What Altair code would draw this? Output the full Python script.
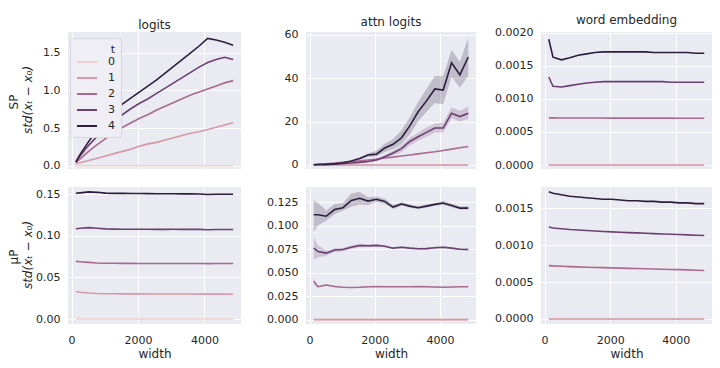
import altair as alt
import pandas as pd

# ---------------- data ----------------
WIDTHS = [128, 256, 512, 768, 1024, 1280, 1536, 1792, 2048, 2304,
          2560, 2816, 3072, 3328, 3584, 3840, 4096, 4352, 4608, 4864]
T_STEPS = [0, 1, 2, 3, 4]
T_COLORS = ["#EDD1CB", "#D49AA9", "#A96A8E", "#6C3F71", "#2D1E3E"]
ZERO = [0.0, 0.0, 0.0, 0.0, 0.0, 0.0, 0.0, 0.0, 0.0, 0.0,
        0.0, 0.0, 0.0, 0.0, 0.0, 0.0, 0.0, 0.0, 0.0, 0.0]

# SP / logits
sp_logits_t1 = [0.03, 0.04, 0.07, 0.10, 0.13, 0.16, 0.19, 0.22, 0.26, 0.29,
                0.31, 0.34, 0.37, 0.40, 0.43, 0.45, 0.48, 0.51, 0.54, 0.57]
sp_logits_t2 = [0.04, 0.09, 0.19, 0.28, 0.36, 0.44, 0.51, 0.57, 0.63, 0.68,
                0.74, 0.79, 0.84, 0.89, 0.94, 0.98, 1.02, 1.06, 1.10, 1.13]
sp_logits_t3 = [0.05, 0.13, 0.27, 0.39, 0.50, 0.59, 0.68, 0.76, 0.83, 0.89,
                0.96, 1.03, 1.10, 1.17, 1.24, 1.31, 1.37, 1.41, 1.44, 1.41]
sp_logits_t4 = [0.05, 0.15, 0.32, 0.48, 0.61, 0.72, 0.82, 0.90, 0.98, 1.06,
                1.14, 1.23, 1.32, 1.41, 1.50, 1.59, 1.69, 1.67, 1.64, 1.60]

# SP / attn logits
sp_attn_t2 = [0.2, 0.3, 0.6, 0.9, 1.2, 1.5, 1.9, 2.3, 2.7, 3.2,
              3.6, 4.1, 4.6, 5.1, 5.6, 6.1, 6.7, 7.3, 7.9, 8.5]
sp_attn_t3 = [0.1, 0.2, 0.3, 0.4, 0.6, 0.9, 1.2, 1.6, 2.3, 3.8,
              5.5, 7.5, 10.8, 13.0, 15.0, 17.0, 17.0, 23.8, 22.3, 23.8]
sp_attn_t3_lo = [0.0, 0.1, 0.2, 0.3, 0.4, 0.7, 0.9, 1.2, 1.7, 3.0,
                 4.4, 6.0, 9.0, 11.2, 13.0, 15.0, 15.0, 21.5, 20.0, 21.2]
sp_attn_t3_hi = [0.2, 0.3, 0.4, 0.5, 0.8, 1.1, 1.5, 2.0, 2.9, 4.6,
                 6.6, 9.0, 12.6, 14.8, 17.2, 19.0, 19.5, 26.5, 25.0, 27.0]
sp_attn_t4 = [0.1, 0.2, 0.3, 0.5, 1.0, 1.8, 3.0, 4.6, 5.0, 7.8,
              9.5, 12.5, 18.0, 24.5, 29.5, 35.0, 34.5, 47.0, 41.5, 49.7]
sp_attn_t4_lo = [0.0, 0.1, 0.2, 0.4, 0.8, 1.4, 2.4, 3.8, 3.8, 6.0,
                 7.2, 9.5, 14.0, 20.0, 24.5, 28.5, 28.0, 40.5, 35.5, 41.0]
sp_attn_t4_hi = [0.2, 0.3, 0.4, 0.6, 1.2, 2.2, 3.6, 5.4, 6.5, 9.8,
                 12.0, 16.0, 22.0, 29.0, 35.0, 41.0, 41.0, 53.0, 47.5, 58.5]

# SP / word embedding
sp_emb_t2 = [0.000712, 0.000712, 0.000711, 0.000711, 0.000710, 0.000710, 0.000710, 0.000710, 0.000709, 0.000709,
             0.000709, 0.000709, 0.000708, 0.000708, 0.000708, 0.000708, 0.000707, 0.000707, 0.000707, 0.000707]
sp_emb_t3 = [0.00133, 0.00119, 0.00118, 0.00120, 0.00122, 0.00124, 0.00125, 0.00126, 0.00126, 0.00126,
             0.00126, 0.00126, 0.00126, 0.00126, 0.00126, 0.00125, 0.00125, 0.00125, 0.00125, 0.00125]
sp_emb_t4 = [0.00190, 0.00163, 0.00159, 0.00162, 0.00166, 0.00168, 0.00170, 0.00171, 0.00171, 0.00171,
             0.00171, 0.00171, 0.00171, 0.00170, 0.00170, 0.00170, 0.00170, 0.00170, 0.00169, 0.00169]

# muP / logits
mup_logits_t1 = [0.0330, 0.0322, 0.0312, 0.0306, 0.0304, 0.0303, 0.0302, 0.0302, 0.0302, 0.0301,
                 0.0301, 0.0300, 0.0300, 0.0300, 0.0300, 0.0299, 0.0299, 0.0299, 0.0299, 0.0298]
mup_logits_t2 = [0.0692, 0.0688, 0.0680, 0.0672, 0.0670, 0.0669, 0.0668, 0.0668, 0.0667, 0.0667,
                 0.0667, 0.0667, 0.0667, 0.0667, 0.0666, 0.0666, 0.0665, 0.0666, 0.0666, 0.0666]
mup_logits_t3 = [0.1085, 0.1090, 0.1098, 0.1090, 0.1083, 0.1080, 0.1079, 0.1078, 0.1078, 0.1078,
                 0.1077, 0.1077, 0.1078, 0.1077, 0.1077, 0.1077, 0.1073, 0.1076, 0.1076, 0.1076]
mup_logits_t4 = [0.1510, 0.1515, 0.1527, 0.1522, 0.1512, 0.1510, 0.1509, 0.1508, 0.1507, 0.1506,
                 0.1505, 0.1505, 0.1504, 0.1503, 0.1503, 0.1502, 0.1496, 0.1499, 0.1499, 0.1499]

# muP / attn logits
mup_attn_t2 = [0.0408, 0.0350, 0.0368, 0.0352, 0.0345, 0.0342, 0.0345, 0.0350, 0.0352, 0.0350,
               0.0350, 0.0350, 0.0350, 0.0352, 0.0350, 0.0348, 0.0345, 0.0348, 0.0350, 0.0350]
mup_attn_t2_lo = [0.0370, 0.0340, 0.0360, 0.0345, 0.0340, 0.0337, 0.0340, 0.0345, 0.0347, 0.0346,
                  0.0346, 0.0346, 0.0346, 0.0348, 0.0346, 0.0344, 0.0341, 0.0344, 0.0346, 0.0346]
mup_attn_t2_hi = [0.0445, 0.0360, 0.0376, 0.0359, 0.0350, 0.0347, 0.0350, 0.0355, 0.0357, 0.0354,
                  0.0354, 0.0354, 0.0354, 0.0356, 0.0354, 0.0352, 0.0349, 0.0352, 0.0354, 0.0354]
mup_attn_t3 = [0.0760, 0.0725, 0.0707, 0.0740, 0.0745, 0.0770, 0.0788, 0.0785, 0.0790, 0.0780,
               0.0760, 0.0770, 0.0760, 0.0753, 0.0755, 0.0765, 0.0770, 0.0760, 0.0748, 0.0746]
mup_attn_t3_lo = [0.0640, 0.0660, 0.0680, 0.0720, 0.0728, 0.0750, 0.0770, 0.0770, 0.0778, 0.0770,
                  0.0750, 0.0760, 0.0750, 0.0742, 0.0744, 0.0754, 0.0760, 0.0750, 0.0738, 0.0736]
mup_attn_t3_hi = [0.0880, 0.0790, 0.0734, 0.0760, 0.0762, 0.0790, 0.0806, 0.0800, 0.0802, 0.0790,
                  0.0770, 0.0780, 0.0770, 0.0764, 0.0766, 0.0776, 0.0780, 0.0770, 0.0758, 0.0756]
mup_attn_t4 = [0.1115, 0.1115, 0.1100, 0.1170, 0.1190, 0.1268, 0.1290, 0.1260, 0.1280, 0.1257,
               0.1197, 0.1229, 0.1207, 0.1190, 0.1207, 0.1225, 0.1240, 0.1214, 0.1186, 0.1186]
mup_attn_t4_lo = [0.0930, 0.1000, 0.1050, 0.1120, 0.1160, 0.1200, 0.1225, 0.1220, 0.1250, 0.1230,
                  0.1175, 0.1210, 0.1190, 0.1175, 0.1190, 0.1210, 0.1220, 0.1195, 0.1170, 0.1170]
mup_attn_t4_hi = [0.1270, 0.1240, 0.1160, 0.1230, 0.1240, 0.1340, 0.1360, 0.1300, 0.1310, 0.1285,
                  0.1220, 0.1250, 0.1225, 0.1205, 0.1225, 0.1240, 0.1260, 0.1235, 0.1205, 0.1205]

# muP / word embedding
mup_emb_t2 = [0.000722, 0.000718, 0.000713, 0.000708, 0.000704, 0.000700, 0.000697, 0.000694, 0.000691, 0.000688,
              0.000685, 0.000682, 0.000679, 0.000676, 0.000673, 0.000670, 0.000667, 0.000664, 0.000660, 0.000656]
mup_emb_t3 = [0.001243, 0.001230, 0.001220, 0.001210, 0.001203, 0.001196, 0.001190, 0.001184, 0.001178, 0.001173,
              0.001168, 0.001164, 0.001160, 0.001155, 0.001150, 0.001146, 0.001142, 0.001137, 0.001133, 0.001128]
mup_emb_t4 = [0.00172, 0.00170, 0.00168, 0.00166, 0.00165, 0.00164, 0.00163, 0.00162, 0.00162, 0.00161,
              0.00160, 0.00160, 0.00159, 0.00159, 0.00158, 0.00158, 0.00157, 0.00157, 0.00156, 0.00156]

X_DOMAIN = [-109, 5101]
X_TICKS = [0, 2000, 4000]

FONT = "DejaVu Sans"
TXT = "#262626"


def make_df(series):
    rows = []
    for t, vals in zip(T_STEPS, series):
        for w, v in zip(WIDTHS, vals):
            rows.append({"width": w, "t": t, "value": v})
    return pd.DataFrame(rows)


def make_band(bands):
    rows = []
    for t, lo, hi in bands:
        for w, a, b in zip(WIDTHS, lo, hi):
            rows.append({"width": w, "t": t, "lo": a, "hi": b})
    return pd.DataFrame(rows)


def color_enc(legend):
    sc = alt.Scale(domain=T_STEPS, range=T_COLORS)
    if legend:
        return alt.Color("t:O", scale=sc, legend=alt.Legend(
            title="t", orient="none", legendX=2, legendY=6,
            symbolType="stroke", symbolSize=400, symbolStrokeWidth=2,
            rowPadding=-3, labelFontSize=11, labelFont=FONT, labelColor=TXT,
            titleFontSize=11, titleFont=FONT, titleColor=TXT, titleFontWeight="normal",
            titleAnchor="end", titlePadding=-4, labelOffset=10,
            fillColor="#EEEEF4", strokeColor="#D6D6DE", cornerRadius=3, padding=6))
    return alt.Color("t:O", scale=sc, legend=None)


def yaxis(yticks, yfmt):
    return alt.Axis(values=yticks, format=yfmt, title=None, grid=True,
                    gridColor="#FFFFFF", domain=False, ticks=False,
                    labelFont=FONT, labelFontSize=11, labelColor=TXT, labelPadding=8)


def panel(series, ydom, yticks, yfmt, bottom, width, title=None, bands=None,
          legend=False, rowlabel=None):
    xaxis_kw = dict(values=X_TICKS, format="d", grid=True, gridColor="#FFFFFF",
                    domain=False, ticks=False, labelFont=FONT, labelFontSize=11,
                    labelColor=TXT, labelPadding=10)
    if bottom:
        xaxis_kw.update(title="width", titlePadding=3, titleFont=FONT,
                        titleFontSize=12, titleFontWeight="normal", titleColor=TXT)
    else:
        xaxis_kw.update(labels=False, title=None)
    x = alt.X("width:Q", scale=alt.Scale(domain=X_DOMAIN, nice=False, zero=False),
              axis=alt.Axis(**xaxis_kw))
    ysc = alt.Scale(domain=ydom, nice=False, zero=False)
    layers = []
    if bands is not None:
        bdf = make_band(bands)
        layers.append(alt.Chart(bdf).mark_area(opacity=0.22).encode(
            x=x,
            y=alt.Y("lo:Q", scale=ysc, axis=yaxis(yticks, yfmt)),
            y2="hi:Q",
            color=color_enc(False)))
    df = make_df(series)
    layers.append(alt.Chart(df).mark_line(strokeWidth=1.6).encode(
        x=x, y=alt.Y("value:Q", scale=ysc, axis=yaxis(yticks, yfmt)),
        color=color_enc(legend)))
    if rowlabel is not None:
        lab = pd.DataFrame({"lab": [rowlabel]})
        layers.append(alt.Chart(lab).mark_text(
            angle=270, font=FONT, fontSize=12, color=TXT).encode(
            x=alt.value(-54), y=alt.value(70), text="lab:N"))
        lab2 = pd.DataFrame({"lab": ["std(xₜ − x₀)"]})
        layers.append(alt.Chart(lab2).mark_text(
            angle=270, font=FONT, fontSize=12, fontStyle="italic", color=TXT).encode(
            x=alt.value(-40), y=alt.value(68), text="lab:N"))
    ch = alt.layer(*layers).properties(width=width, height=137)
    if title:
        ch = ch.properties(title=alt.TitleParams(
            text=title, font=FONT, fontSize=12, fontWeight="normal", color=TXT, offset=0))
    return ch


p1 = panel([ZERO, sp_logits_t1, sp_logits_t2, sp_logits_t3, sp_logits_t4],
           [-0.044, 1.776], [0, 0.5, 1.0, 1.5], ".1f", False, 173, title="logits",
           legend=True, rowlabel="SP")
p2 = panel([ZERO, ZERO, sp_attn_t2, sp_attn_t3, sp_attn_t4],
           [-1.85, 61.2], [0, 20, 40, 60], "d", False, 170, title="attn logits",
           bands=[(3, sp_attn_t3_lo, sp_attn_t3_hi), (4, sp_attn_t4_lo, sp_attn_t4_hi)])
p3 = panel([ZERO, ZERO, sp_emb_t2, sp_emb_t3, sp_emb_t4],
           [-0.00006, 0.00201], [0, 0.0005, 0.001, 0.0015, 0.002], ".4f", False, 171,
           title="word embedding")
p4 = panel([ZERO, mup_logits_t1, mup_logits_t2, mup_logits_t3, mup_logits_t4],
           [-0.006, 0.1586], [0, 0.05, 0.10, 0.15], ".2f", True, 173,
           rowlabel="μP")
p5 = panel([ZERO, ZERO, mup_attn_t2, mup_attn_t3, mup_attn_t4],
           [-0.0046, 0.141], [0, 0.025, 0.05, 0.075, 0.1, 0.125], ".3f", True, 170,
           bands=[(2, mup_attn_t2_lo, mup_attn_t2_hi), (3, mup_attn_t3_lo, mup_attn_t3_hi),
                  (4, mup_attn_t4_lo, mup_attn_t4_hi)])
p6 = panel([ZERO, ZERO, mup_emb_t2, mup_emb_t3, mup_emb_t4],
           [-0.000068, 0.001785], [0, 0.0005, 0.001, 0.0015], ".4f", True, 171)

chart = alt.concat(p1, p2, p3, p4, p5, p6, columns=3, spacing={"row": 18, "column": 65},
                   bounds="flush").resolve_scale(
    color="independent", x="independent", y="independent"
).properties(
    padding={"left": 0, "top": 5, "right": 0, "bottom": 0},
    background="#FFFFFF"
).configure_view(
    fill="#EAEAF2", strokeWidth=0
).configure_axis(
    grid=True, gridColor="#FFFFFF", gridWidth=1, domain=False, ticks=False,
    labelFont=FONT, labelFontSize=11, labelColor=TXT, labelPadding=8,
    titleFont=FONT, titleFontSize=12, titleFontWeight="normal", titleColor=TXT
).configure_title(
    font=FONT, fontSize=12, fontWeight="normal", color=TXT, offset=0
)

chart.save("out.html", embed_options={"renderer": "svg", "actions": False})
